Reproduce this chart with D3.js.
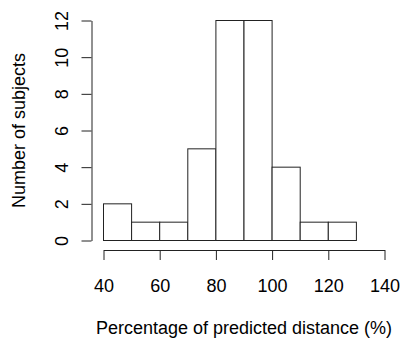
<!DOCTYPE html>
<html>
<head>
<meta charset="utf-8">
<script src="https://cdn.jsdelivr.net/npm/d3@7"></script>
<style>
  body { margin: 0; background: #fff; }
  svg text { font-family: "Liberation Sans", Arial, sans-serif; fill: #000; }
</style>
</head>
<body>
<div id="chart"></div>
<script>
// histogram bins (lower edges) and counts
var binStarts = [40, 50, 60, 70, 80, 90, 100, 110, 120];
var binWidth = 10;
var counts = [2, 1, 1, 5, 12, 12, 4, 1, 1];
var xTicks = [40, 60, 80, 100, 120, 140];
var yTicks = [0, 2, 4, 6, 8, 10, 12];

var w = 401;
var h = 338;
var fs = 18;

var svg = d3.select("#chart")
            .append("svg")
            .attr("width", w)
            .attr("height", h);

var x = d3.scaleLinear().domain([40, 140]).range([103.5, 384.5]);
var y = d3.scaleLinear().domain([0, 12]).range([240.5, 20.5]);

// bars
svg.selectAll("rect")
   .data(counts)
   .enter()
   .append("rect")
   .attr("x", function(d, i) { return x(binStarts[i]); })
   .attr("y", function(d) { return y(d); })
   .attr("width", function(d, i) { return x(binStarts[i] + binWidth) - x(binStarts[i]); })
   .attr("height", function(d) { return y(0) - y(d); })
   .attr("fill", "#fff")
   .attr("stroke", "#222")
   .attr("stroke-width", 1);

// x axis
var xAxis = svg.append("g")
   .attr("transform", "translate(0,250)")
   .call(d3.axisBottom(x).tickValues(xTicks).tickSizeInner(10).tickSizeOuter(0).tickPadding(19));
xAxis.selectAll("path, line").attr("stroke", "#222");
xAxis.selectAll("text").attr("font-size", fs).style("font-family", "'Liberation Sans', Arial, sans-serif").attr("fill", "#000");

// y axis
var yAxis = svg.append("g")
   .attr("transform", "translate(91.5,0)")
   .call(d3.axisLeft(y).tickValues(yTicks).tickSizeInner(10).tickSizeOuter(0).tickFormat(d3.format("d")));
yAxis.selectAll("path, line").attr("stroke", "#222");
yAxis.selectAll("text")
   .attr("font-size", fs)
   .style("font-family", "'Liberation Sans', Arial, sans-serif")
   .attr("fill", "#000")
   .attr("x", null)
   .attr("text-anchor", "middle")
   .attr("transform", "translate(-30,0) rotate(-90)")
   .attr("dy", "0.35em");

// axis titles
svg.append("text")
   .attr("x", x(90))
   .attr("y", 334)
   .attr("text-anchor", "middle")
   .attr("font-size", fs)
   .text("Percentage of predicted distance (%)");

svg.append("text")
   .attr("transform", "translate(25," + y(6) + ") rotate(-90)")
   .attr("text-anchor", "middle")
   .attr("font-size", fs)
   .text("Number of subjects");
</script>
</body>
</html>
